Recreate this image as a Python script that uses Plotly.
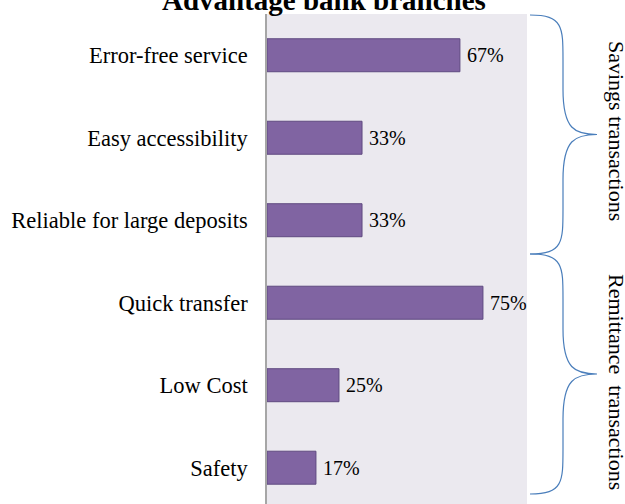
import plotly.graph_objects as go

categories = ["Error-free service", "Easy accessibility", "Reliable for large deposits",
              "Quick transfer", "Low Cost", "Safety"]
values = [67, 33, 33, 75, 25, 17]
value_labels = ["67%", "33%", "33%", "75%", "25%", "17%"]
groups = ["Savings transactions", "Remittance&nbsp;&nbsp;transactions"]

W, H = 625, 504
ML, MR, MT, MB = 267, 98, 14, 0
PW, PH = W - ML - MR, H - MT - MB

def px(x):
    return (x - ML) / PW

def py(y):
    return (H - MB - y) / PH

FONT = "Liberation Serif, Times New Roman, serif"
pos = list(range(len(categories)))

fig = go.Figure()
fig.add_trace(go.Bar(
    x=values, y=pos, orientation="h", width=0.4,
    marker=dict(color="#8064A2", line=dict(color="#5F4A80", width=1)),
    hoverinfo="skip",
))

annotations = []
for v, lab, p in zip(values, value_labels, pos):
    annotations.append(dict(x=v, y=p, xref="x", yref="y", text=lab, showarrow=False,
                            xanchor="left", yanchor="middle", xshift=5,
                            font=dict(family=FONT, size=20, color="#000")))

# title
annotations.append(dict(x=px(324), y=py(18), xref="paper", yref="paper",
                        text="<b>Advantage bank branches</b>", showarrow=False,
                        xanchor="center", yanchor="bottom",
                        font=dict(family=FONT, size=29, color="#000")))

# braces
def brace(top, bottom):
    tip = (top + bottom) / 2
    xl, xm, xr = 530, 563, 597
    pts = [
        f"M {px(xl)},{py(top)}",
        f"C {px(xm)},{py(top)} {px(xm)},{py(top+12)} {px(xm)},{py(top+45)}",
        f"L {px(xm)},{py(tip-45)}",
        f"C {px(xm)},{py(tip-5)} {px(xm+12)},{py(tip)} {px(xr)},{py(tip)}",
        f"C {px(xm+12)},{py(tip)} {px(xm)},{py(tip+5)} {px(xm)},{py(tip+45)}",
        f"L {px(xm)},{py(bottom-45)}",
        f"C {px(xm)},{py(bottom-12)} {px(xm)},{py(bottom)} {px(xl)},{py(bottom)}",
    ]
    return " ".join(pts)

shapes = [
    dict(type="path", xref="paper", yref="paper", path=brace(15, 254),
         line=dict(color="#4A7EBB", width=1.2)),
    dict(type="path", xref="paper", yref="paper", path=brace(254, 494),
         line=dict(color="#4A7EBB", width=1.2)),
]

for g, yc in zip(groups, [131, 382]):
    annotations.append(dict(x=px(617), y=py(yc), xref="paper", yref="paper",
                            text=g, showarrow=False, textangle=90,
                            xanchor="center", yanchor="middle",
                            font=dict(family=FONT, size=22, color="#000")))

fig.update_layout(
    width=W, height=H,
    margin=dict(l=ML, r=MR, t=MT, b=MB),
    paper_bgcolor="white",
    plot_bgcolor="#EBE9EF",
    showlegend=False,
    annotations=annotations,
    shapes=shapes,
    xaxis=dict(range=[0, 90.3], showgrid=False, showticklabels=False, zeroline=False,
               showline=False, ticks=""),
    yaxis=dict(range=[5.44, -0.5], tickvals=pos, ticktext=categories,
               showgrid=False, zeroline=False, showline=True, linecolor="#A6A6A6",
               linewidth=1.5, ticks="outside", ticklen=13, tickcolor="rgba(0,0,0,0)",
               tickfont=dict(family=FONT, size=22.5, color="#000")),
)

fig.write_html("out.html")
